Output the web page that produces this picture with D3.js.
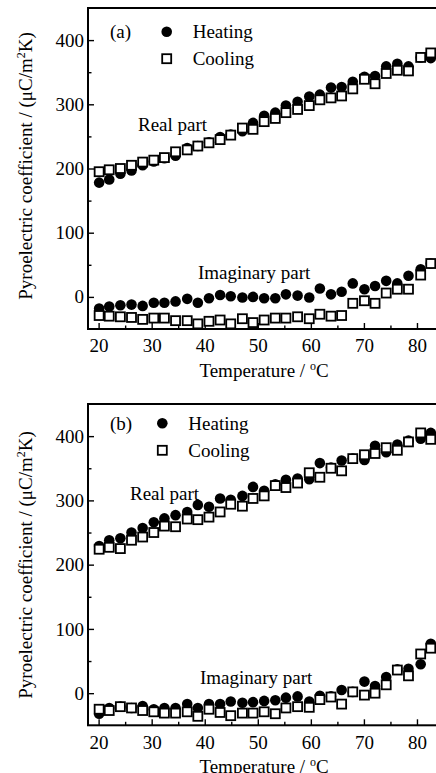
<!DOCTYPE html>
<html>
<head>
<meta charset="utf-8">
<script src="https://cdn.jsdelivr.net/npm/d3@7"></script>
<style>
  body { margin: 0; background: #fff; }
  svg { display: block; font-family: "Liberation Serif", "Times New Roman", serif; }
</style>
</head>
<body>
<script>
// temperatures (°C) of the measuring points, same for both panels
const temperature = [20.1, 22.0, 24.1, 26.2, 28.3, 30.4, 32.4, 34.5, 36.7, 38.7, 40.8,
    42.9, 44.9, 47.1, 49.1, 51.2, 53.3, 55.3, 57.5, 59.7, 61.7, 63.8, 65.8, 67.9,
    70.1, 72.1, 74.2, 76.3, 78.4, 80.7, 82.6];

// panel (a)
const aRealHeating = [178, 183, 192, 197, 205, 211, 216, 220, 232, 235, 241, 249, 253, 258,
    271, 282, 287, 298, 304, 312, 315, 326, 327, 335, 343, 344, 359, 363, 359, 373, 372];
const aRealCooling = [195, 198, 200, 205, 210, 213, 217, 226, 229, 235, 240, 245, 252, 263,
    261, 273, 278, 287, 292, 298, 307, 310, 313, 324, 339, 332, 348, 353, 352, 373, 380];
const aImagHeating = [-18, -15, -13, -12, -14, -9, -9, -7, -3, -9, -2, 3, 1, -1, 0, -2, -2,
    4, 2, -1, 13, 4, 8, 21, 12, 17, 25, 21, 33, 43, 52];
const aImagCooling = [-29, -30, -31, -32, -35, -33, -33, -37, -37, -42, -38, -36, -42, -34,
    -40, -36, -33, -33, -31, -34, -27, -30, -29, -10, -6, -10, 6, 12, 12, 34, 52];

// panel (b)
const bRealHeating = [229, 238, 241, 250, 257, 266, 272, 277, 282, 293, 290, 303, 301, 307,
    321, 315, 325, 332, 334, 333, 358, 351, 362, 365, 363, 385, 375, 387, 393, 396, 405];
const bRealCooling = [224, 227, 225, 238, 243, 250, 260, 259, 271, 270, 274, 282, 294, 291,
    303, 307, 323, 320, 327, 343, 336, 350, 346, 365, 371, 373, 382, 378, 391, 405, 395];
const bImagHeating = [-32, -23, -21, -23, -20, -25, -23, -23, -17, -23, -17, -17, -13, -15,
    -14, -12, -11, -7, -5, -13, -4, -5, 5, 2, 18, 11, 25, 37, 38, 45, 77];
const bImagCooling = [-25, -27, -21, -23, -27, -29, -31, -31, -29, -36, -25, -30, -35, -31,
    -31, -29, -32, -23, -21, -22, -10, -6, -17, 2, -3, 0, 13, 36, 27, 61, 70];

const xTicks = [20, 30, 40, 50, 60, 70, 80];
const xMinorTicks = [25, 35, 45, 55, 65, 75, 85];
const yTicks = [0, 100, 200, 300, 400];
const yMinorTicks = [50, 150, 250, 350];
const seriesNames = ["Heating", "Cooling"];
const partNames = ["Real part", "Imaginary part"];

const width = 436;
const height = 773;

const svg = d3.select("body").append("svg")
    .attr("width", width)
    .attr("height", height);

function drawPanel(p) {
    const x = d3.scaleLinear().domain([18, 85]).range([88, 443.5]);
    const y = d3.scaleLinear().domain([-50, 450]).range([p.bottom, p.top]);

    const g = svg.append("g");

    // axes, ticks pointing inward
    const fixAxis = a => {
        a.attr("font-size", 19).attr("font-family", null);
        a.select(".domain").remove();
        a.selectAll(".tick line").attr("stroke-width", 1.4);
    };

    g.append("g")
        .attr("transform", `translate(0,${p.bottom})`)
        .call(d3.axisBottom(x).tickValues(xTicks).tickSize(-6).tickPadding(10))
        .call(fixAxis);
    g.append("g")
        .attr("transform", `translate(0,${p.bottom})`)
        .call(d3.axisBottom(x).tickValues(xMinorTicks).tickSize(-3.5).tickFormat(""))
        .call(fixAxis);
    g.append("g")
        .attr("transform", `translate(${x(18)},0)`)
        .call(d3.axisLeft(y).tickValues(yTicks).tickSize(-6).tickPadding(4))
        .call(fixAxis);
    g.append("g")
        .attr("transform", `translate(${x(18)},0)`)
        .call(d3.axisLeft(y).tickValues(yMinorTicks).tickSize(-3.5).tickFormat(""))
        .call(fixAxis);

    g.append("rect")
        .attr("x", x(18))
        .attr("y", p.top)
        .attr("width", x(85) - x(18))
        .attr("height", p.bottom - p.top)
        .attr("fill", "none")
        .attr("stroke", "#000")
        .attr("stroke-width", 2);

    // markers
    [p.realHeat, p.imagHeat].forEach(vals => {
        g.append("g").selectAll("circle")
            .data(d3.zip(temperature, vals))
            .join("circle")
            .attr("cx", d => x(d[0]))
            .attr("cy", d => y(d[1]))
            .attr("r", 5.3)
            .attr("fill", "#000");
    });
    [p.realCool, p.imagCool].forEach(vals => {
        g.append("g").selectAll("rect")
            .data(d3.zip(temperature, vals))
            .join("rect")
            .attr("x", d => x(d[0]) - 4.5)
            .attr("y", d => y(d[1]) - 4.5)
            .attr("width", 9)
            .attr("height", 9)
            .attr("fill", "#fff")
            .attr("stroke", "#000")
            .attr("stroke-width", 1.8);
    });

    // legend
    g.append("circle").attr("cx", p.legX).attr("cy", p.legY).attr("r", 5.3).attr("fill", "#000");
    g.append("rect").attr("x", p.legX - 4.5).attr("y", p.legY + 27 - 4.5)
        .attr("width", 9).attr("height", 9)
        .attr("fill", "#fff").attr("stroke", "#000").attr("stroke-width", 1.8);

    const txt = (tx, ty, s) => g.append("text")
        .attr("x", tx).attr("y", ty)
        .attr("font-size", 19)
        .text(s);

    txt(p.legX + 26, p.legY + 6.5, seriesNames[0]);
    txt(p.legX + 26, p.legY + 33.5, seriesNames[1]);
    txt(110, p.legY + 6.5, p.letter);
    txt(p.realX, p.realY, partNames[0]);
    txt(p.imagX, p.imagY, partNames[1]);

    // x label
    const xl = g.append("text")
        .attr("x", 264).attr("y", p.bottom + 48)
        .attr("text-anchor", "middle")
        .attr("font-size", 19);
    xl.append("tspan").text("Temperature / ");
    xl.append("tspan").attr("font-size", 12).attr("dy", -7).text("o");
    xl.append("tspan").attr("dy", 7).text("C");

    // y label
    const yl = g.append("text")
        .attr("transform", `translate(31.5,${p.labelY}) rotate(-90)`)
        .attr("text-anchor", "middle")
        .attr("font-size", 19);
    yl.append("tspan").text("Pyroelectric coefficient / (\u03bcC/m");
    yl.append("tspan").attr("font-size", 12).attr("dy", -7).text("2");
    yl.append("tspan").attr("dy", 7).text("K)");
}

drawPanel({
    top: 8, bottom: 329, letter: "(a)",
    realHeat: aRealHeating, realCool: aRealCooling,
    imagHeat: aImagHeating, imagCool: aImagCooling,
    legX: 166.7, legY: 31.7,
    realX: 138, realY: 130.5,
    imagX: 198, imagY: 278.5,
    labelY: 166
});

drawPanel({
    top: 404, bottom: 725.3, letter: "(b)",
    realHeat: bRealHeating, realCool: bRealCooling,
    imagHeat: bImagHeating, imagCool: bImagCooling,
    legX: 162.3, legY: 423.3,
    realX: 130, realY: 499.5,
    imagX: 200, imagY: 683.5,
    labelY: 565
});
</script>
</body>
</html>
